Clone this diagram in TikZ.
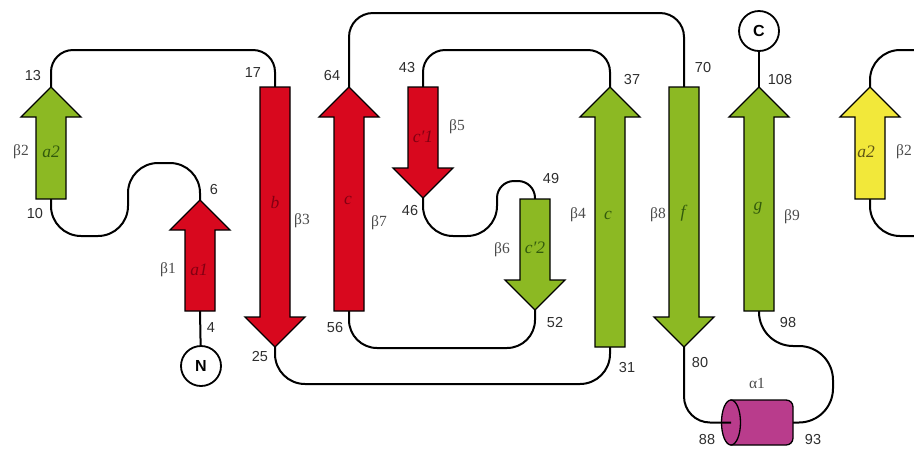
\documentclass[tikz,border=0pt]{standalone}
\usepackage{fontspec}
\setmainfont{Liberation Serif}
\newfontfamily\numfont{Liberation Sans}

\definecolor{strandred}{RGB}{216,8,30}
\definecolor{strandgreen}{RGB}{140,185,35}
\definecolor{strandyellow}{RGB}{242,232,58}
\definecolor{helixpink}{RGB}{185,60,140}
\definecolor{numgray}{RGB}{45,45,45}
\definecolor{betagray}{RGB}{75,75,75}
\definecolor{redtext}{RGB}{130,0,18}
\definecolor{greentext}{RGB}{50,90,12}
\definecolor{yellowtext}{RGB}{95,85,20}

\tikzset{
  strand/.style={draw=black, line width=1.3pt, line join=miter},
  conn/.style={draw=black, line width=2pt},
  num/.style={font=\numfont\fontsize{14.5}{16}\selectfont, text=numgray, inner sep=0pt},
  betalab/.style={font=\fontsize{15.5}{17}\selectfont, text=betagray, inner sep=0pt},
  sheetlab/.style={font=\itshape\fontsize{17.5}{19}\selectfont, inner sep=0pt},
  term/.style={circle, draw=black, line width=1.8pt, fill=white, minimum size=40pt,
    inner sep=0pt, font=\numfont\bfseries\fontsize{16}{16}\selectfont},
  helixbody/.style={draw=black, line width=1.3pt, fill=helixpink}
}

% up strand: x, tip y, tail y, fill
\newcommand\strandUp[4]{%
  \filldraw[strand, fill=#4] (#1,#2) -- (#1+30,#2+30) -- (#1+15,#2+30) -- (#1+15,#3)
    -- (#1-15,#3) -- (#1-15,#2+30) -- (#1-30,#2+30) -- cycle;
}
% down strand: x, tail y, tip y, fill
\newcommand\strandDown[4]{%
  \filldraw[strand, fill=#4] (#1,#3) -- (#1+30,#3-30) -- (#1+15,#3-30) -- (#1+15,#2)
    -- (#1-15,#2) -- (#1-15,#3-30) -- (#1-30,#3-30) -- cycle;
}

\begin{document}
\begin{tikzpicture}[x=1pt,y=-1pt]
\useasboundingbox (0,0) rectangle (914,448);

% strand end points
\coordinate (b1-start) at (200,311); \coordinate (b1-end) at (200,200);
\coordinate (b2-start) at (51,199);  \coordinate (b2-end) at (51,87);
\coordinate (b3-start) at (275,87);  \coordinate (b3-end) at (275,347);
\coordinate (b4-start) at (610,347); \coordinate (b4-end) at (610,87);
\coordinate (b5-start) at (423,87);  \coordinate (b5-end) at (423,198);
\coordinate (b6-start) at (535,199); \coordinate (b6-end) at (535,310);
\coordinate (b7-start) at (349,311); \coordinate (b7-end) at (349,87);
\coordinate (b8-start) at (684,87);  \coordinate (b8-end) at (684,347);
\coordinate (b9-start) at (759,311); \coordinate (b9-end) at (759,87);
\coordinate (y2-start) at (870,199); \coordinate (y2-end) at (870,87);
\coordinate (helix-l) at (731,422.5);
\coordinate (helix-r) at (793,422.5);
\coordinate (edge-top) at (914,50);
\coordinate (edge-bot) at (914,236);

% termini
\node[term] (N) at (201,366) {N};
\node[term] (C) at (759,31) {C};

% loops
\draw[conn] (N) -- (b1-start);
\draw[conn, rounded corners=30] (b1-end) -- (200,163) -- (128,163) -- (128,236) -- (51,236) -- (b2-start);
\draw[conn, rounded corners=22] (b2-end) -- (51,50) -- (275,50) -- (b3-start);
\draw[conn, rounded corners=30] (b3-end) -- (275,384) -- (610,384) -- (b4-start);
\draw[conn, rounded corners=22] (b4-end) -- (610,50) -- (423,50) -- (b5-start);
\draw[conn, rounded corners=30] (b5-end) -- (423,236) -- (497,236) [rounded corners=17] -- (497,181) -- (535,181) -- (b6-start);
\draw[conn, rounded corners=28] (b6-end) -- (535,348) -- (349,348) -- (b7-start);
\draw[conn, rounded corners=24] (b7-end) -- (349,13) -- (684,13) -- (b8-start);
\draw[conn, rounded corners=34] (helix-r) -- (833,422.5) -- (833,346) -- (759,346) -- (b9-start);
\draw[conn] (b9-end) -- (C);
\draw[conn, rounded corners=30] (y2-end) -- (870,50) -- (edge-top);
\draw[conn, rounded corners=30] (y2-start) -- (870,236) -- (edge-bot);

% strands
\strandUp{51}{87}{199}{strandgreen}
\strandUp{200}{200}{311}{strandred}
\strandDown{275}{87}{347}{strandred}
\strandUp{349}{87}{311}{strandred}
\strandDown{423}{87}{198}{strandred}
\strandDown{535}{199}{310}{strandgreen}
\strandUp{610}{87}{347}{strandgreen}
\strandDown{684}{87}{347}{strandgreen}
\strandUp{759}{87}{311}{strandgreen}
\strandUp{870}{87}{199}{strandyellow}

% helix alpha1
\filldraw[helixbody] (731,400) -- (786,400) .. controls (790,400) and (793,403) .. (793,407)
  -- (793,438) .. controls (793,442) and (790,445) .. (786,445) -- (731,445) -- cycle;
\filldraw[helixbody] (helix-l) ellipse [x radius=9.5pt, y radius=22.5pt];
\draw[conn, rounded corners=26] (b8-end) -- (684,422.5) -- (helix-l);

% residue numbers
\node[num] at (33,76) {13};
\node[num] at (253,73) {17};
\node[num] at (214,190) {6};
\node[num] at (35,214) {10};
\node[num] at (211,328) {4};
\node[num] at (260,357) {25};
\node[num] at (332,76) {64};
\node[num] at (335,328) {56};
\node[num] at (407,68) {43};
\node[num] at (410,211) {46};
\node[num] at (551,179) {49};
\node[num] at (555,323) {52};
\node[num] at (632,80) {37};
\node[num] at (627,368) {31};
\node[num] at (703,68) {70};
\node[num] at (700,363) {80};
\node[num] at (780,80) {108};
\node[num] at (788,323) {98};
\node[num] at (707,440) {88};
\node[num] at (813,440) {93};

% strand names
\node[betalab] at (21,152) {β2};
\node[betalab] at (168,270) {β1};
\node[betalab] at (302,221) {β3};
\node[betalab] at (379,223) {β7};
\node[betalab] at (457,127) {β5};
\node[betalab] at (502,250) {β6};
\node[betalab] at (578,215) {β4};
\node[betalab] at (658,215) {β8};
\node[betalab] at (792,217) {β9};
\node[betalab, anchor=west] at (896,152) {β2};
\node[betalab] at (757,383) {α1};

% sheet labels
\node[sheetlab, text=greentext] at (51,152) {a2};
\node[sheetlab, text=redtext] at (199,270) {a1};
\node[sheetlab, text=redtext] at (275,203) {b};
\node[sheetlab, text=redtext] at (348,200) {c};
\node[sheetlab, text=redtext] at (423,137) {c′1};
\node[sheetlab, text=greentext] at (535,248) {c′2};
\node[sheetlab, text=greentext] at (608,215) {c};
\node[sheetlab, text=greentext] at (683,213) {f};
\node[sheetlab, text=greentext] at (758,208) {g};
\node[sheetlab, text=yellowtext] at (866,152) {a2};
\end{tikzpicture}
\end{document}
